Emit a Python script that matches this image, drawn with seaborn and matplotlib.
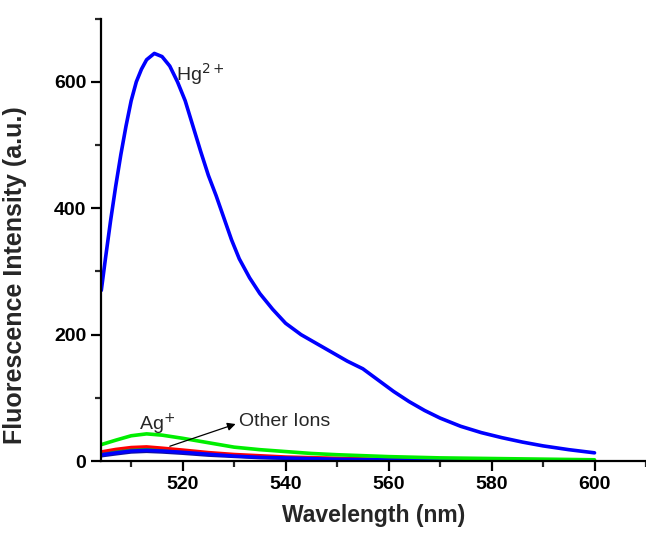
import matplotlib
matplotlib.use("Agg")
import matplotlib.pyplot as plt
import seaborn as sns
import pandas as pd

# Emission spectra (wavelength in nm, intensity in a.u.)
wl_hg = [504.2, 505, 506, 507, 508, 509, 510, 511, 512, 513, 514.5, 516, 517.5,
         519, 520.5, 522, 523.5, 525, 526.5, 528, 529.5, 531, 533, 535, 537.5,
         540, 543, 546, 549, 552, 555, 558, 561, 564, 567, 570, 574, 578, 582,
         586, 590, 595, 600]
hg = [270, 320, 380, 435, 485, 530, 570, 600, 620, 635, 645, 640, 625,
      600, 570, 530, 490, 452, 420, 385, 350, 320, 290, 265, 240,
      218, 200, 186, 172, 158, 146, 128, 110, 94, 80, 68, 55, 45, 37,
      30, 24, 18, 13]

wl_ions = [504.2, 507, 510, 513, 516, 520, 525, 530, 535, 540, 545, 550,
           560, 570, 580, 590, 600]
ag = [26, 33, 40, 43, 41, 36, 29, 22, 18, 15, 12, 10, 7, 5, 4, 3, 2]
ion_red = [15, 19, 22, 23, 21, 18, 14, 11, 9, 7, 6, 5, 3, 2, 1.5, 1, 1]
ion_olive = [13, 16, 19, 20, 19, 16, 13, 10, 8, 6, 5, 4, 2.5, 2, 1.5, 1, 1]
ion_blue = [10, 13, 16, 17, 16, 14, 11, 8, 6, 5, 4, 3, 2, 1.5, 1, 1, 0.8]
ion_navy = [8, 11, 14, 15, 14, 12, 9, 7, 5, 4, 3, 2.5, 1.5, 1, 1, 0.8, 0.6]

x_ticks = [520, 540, 560, 580, 600]
y_ticks = [0, 200, 400, 600]

sns.set_theme(style="ticks")
plt.rcParams["font.family"] = ["Liberation Sans", "DejaVu Sans"]

fig = plt.figure(figsize=(6.46, 5.33), dpi=100)
ax = fig.add_axes([0.156, 0.135, 0.844, 0.83])

series = [
    (ion_navy, "#1010a0", 2.2),
    (ion_olive, "#2e8b2e", 1.6),
    (ion_red, "#ff0000", 2.0),
    (ion_blue, "#0000ff", 2.4),
    (ag, "#00ee00", 2.6),
]
for vals, col, lw in series:
    df = pd.DataFrame({"wl": wl_ions, "I": vals})
    sns.lineplot(data=df, x="wl", y="I", color=col, lw=lw, ax=ax, sort=False)

df_hg = pd.DataFrame({"wl": wl_hg, "I": hg})
sns.lineplot(data=df_hg, x="wl", y="I", color="#0000ff", lw=2.6, ax=ax, sort=False)

ax.set_xlim(504.1, 610)
ax.set_ylim(0, 700)
ax.set_xticks(x_ticks)
ax.set_yticks(y_ticks)
ax.set_xticks([510, 530, 550, 570, 590, 610], minor=True)
ax.set_yticks([100, 300, 500, 700], minor=True)

for side in ("top", "right"):
    ax.spines[side].set_visible(False)
for side in ("left", "bottom"):
    ax.spines[side].set_linewidth(1.6)
    ax.spines[side].set_color("black")

ax.tick_params(axis="both", which="major", direction="out", length=7, width=1.6,
               labelsize=14, colors="black")
ax.tick_params(axis="both", which="minor", direction="out", length=4, width=1.6)
for lab in ax.get_xticklabels() + ax.get_yticklabels():
    lab.set_fontweight("bold")

ax.set_xlabel("Wavelength (nm)", fontsize=16.5, fontweight="bold", labelpad=8)
ax.set_ylabel("Fluorescence Intensity (a.u.)", fontsize=18, fontweight="bold")
ax.yaxis.set_label_coords(-0.135, 0.42)

ax.text(518.8, 612, r"Hg$^{2+}$", fontsize=14, ha="left", va="center")
ax.text(511.5, 58, r"Ag$^{+}$", fontsize=14, ha="left", va="center")
ax.text(531, 62, "Other Ions", fontsize=14, ha="left", va="center")
ax.annotate("", xy=(530.8, 60), xytext=(517, 22),
            arrowprops=dict(arrowstyle="-|>", color="black", lw=0.9,
                            mutation_scale=12))

fig.savefig("out.png", dpi=100)
